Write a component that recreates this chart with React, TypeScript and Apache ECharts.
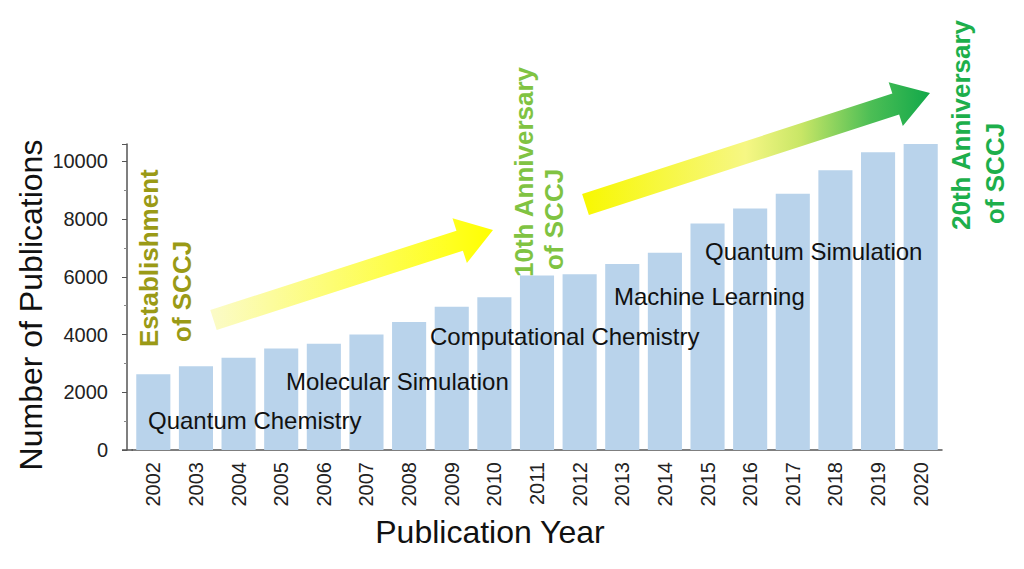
import React, { useEffect, useRef } from "react";
import * as echarts from "echarts";

const years = ["2002","2003","2004","2005","2006","2007","2008","2009","2010","2011","2012","2013","2014","2015","2016","2017","2018","2019","2020"];
const publications = [2620, 2900, 3195, 3520, 3680, 4005, 4430, 4960, 5295, 6045, 6090, 6440, 6830, 7845, 8365, 8880, 9690, 10310, 10600];
const yTicks = [0, 2000, 4000, 6000, 8000, 10000];
const topics = ["Quantum Chemistry", "Molecular Simulation", "Computational Chemistry", "Machine Learning", "Quantum Simulation"];
const milestones = [
  ["Establishment", "of SCCJ"],
  ["10th Anniversary", "of SCCJ"],
  ["20th Anniversary", "of SCCJ"],
];

const FONT = "'Liberation Sans', Arial, sans-serif";

function arrowPoints(tail: number[], tip: number[], sh: number, headLen: number, hh: number) {
  const dx = tip[0] - tail[0];
  const dy = tip[1] - tail[1];
  const L = Math.hypot(dx, dy);
  const ux = dx / L, uy = dy / L;
  const nx = -uy, ny = ux;
  const bx = tip[0] - ux * headLen, by = tip[1] - uy * headLen;
  return [
    [tail[0] + nx * sh, tail[1] + ny * sh],
    [bx + nx * sh, by + ny * sh],
    [bx + nx * hh, by + ny * hh],
    [tip[0], tip[1]],
    [bx - nx * hh, by - ny * hh],
    [bx - nx * sh, by - ny * sh],
    [tail[0] - nx * sh, tail[1] - ny * sh],
  ];
}

export default function App() {
  const ref = useRef<HTMLDivElement>(null);
  useEffect(() => {
    if (!ref.current) return;
    const chart = echarts.init(ref.current, null, { renderer: "svg" });

    const topicPos = [
      [148, 420], [286, 381], [430, 336], [614, 296], [705, 251],
    ];
    const msPos = [
      { color: "#9a9a16", lines: [[149, 347], [182, 342]] },
      { color: "#80c342", lines: [[524, 277], [554, 270]] },
      { color: "#1daf4b", lines: [[961, 230], [995, 224]] },
    ];

    const graphics: any[] = [];
    graphics.push({
      type: "line",
      shape: { x1: 122, y1: 450, x2: 133, y2: 450 },
      style: { stroke: "#555555", lineWidth: 1.5 },
    });
    graphics.push({
      type: "polygon",
      z: 5,
      shape: { points: arrowPoints([213.5, 320], [493, 230], 10.5, 35, 23.5) },
      style: {
        fill: new echarts.graphic.LinearGradient(0, 0, 1, 0, [
          { offset: 0, color: "#fbfbc8" },
          { offset: 0.85, color: "#ffff20" },
          { offset: 1, color: "#ffff00" },
        ]),
      },
    });
    graphics.push({
      type: "polygon",
      z: 5,
      shape: { points: arrowPoints([585.5, 204.5], [930, 93], 11, 36, 23) },
      style: {
        fill: new echarts.graphic.LinearGradient(0, 0, 1, 0, [
          { offset: 0, color: "#f8f800" },
          { offset: 0.47, color: "#f6f784" },
          { offset: 0.63, color: "#c8e666" },
          { offset: 0.83, color: "#4cbe55" },
          { offset: 1, color: "#12a84a" },
        ]),
      },
    });
    topics.forEach((t, i) => {
      graphics.push({
        type: "text",
        z: 10,
        x: topicPos[i][0],
        y: topicPos[i][1],
        style: {
          text: t,
          font: `24px ${FONT}`,
          fill: "#111111",
          textAlign: "left",
          textVerticalAlign: "middle",
        },
      });
    });
    milestones.forEach((m, i) => {
      m.forEach((line, j) => {
        graphics.push({
          type: "text",
          z: 10,
          x: msPos[i].lines[j][0],
          y: msPos[i].lines[j][1],
          rotation: Math.PI / 2,
          style: {
            text: line,
            font: `bold 26px ${FONT}`,
            fill: msPos[i].color,
            textAlign: "left",
            textVerticalAlign: "middle",
          },
        });
      });
    });
    graphics.push({
      type: "text",
      x: 31,
      y: 305,
      rotation: Math.PI / 2,
      style: {
        text: "Number of Publications",
        font: `32px ${FONT}`,
        fill: "#111111",
        textAlign: "center",
        textVerticalAlign: "middle",
      },
    });
    graphics.push({
      type: "text",
      x: 490,
      y: 532,
      style: {
        text: "Publication Year",
        font: `32px ${FONT}`,
        fill: "#111111",
        textAlign: "center",
        textVerticalAlign: "middle",
      },
    });

    chart.setOption({
      animation: false,
      backgroundColor: "#ffffff",
      grid: { left: 132, right: 82, top: 144, bottom: 119, containLabel: false },
      xAxis: {
        type: "category",
        data: years,
        axisLine: { show: true, lineStyle: { color: "#555555", width: 1.5 } },
        axisTick: { show: false },
        axisLabel: {
          rotate: 90,
          margin: 12,
          fontFamily: FONT,
          fontSize: 20,
          color: "#222222",
          interval: 0,
          padding: [0, 0, 10, 0],
        },
      },
      yAxis: {
        type: "value",
        min: 0,
        max: 10600,
        interval: 2000,
        offset: 5,
        splitLine: { show: false },
        axisLine: { show: true, lineStyle: { color: "#555555", width: 1.5 } },
        axisTick: { show: true, length: 5, lineStyle: { color: "#555555" } },
        minorTick: { show: true, splitNumber: 2, length: 3, lineStyle: { color: "#888888" } },
        axisLabel: {
          margin: 19,
          fontFamily: FONT,
          fontSize: 20,
          color: "#222222",
          formatter: (v: number) => (yTicks.includes(v) ? String(v) : ""),
        },
      },
      series: [
        {
          type: "bar",
          data: publications,
          barCategoryGap: "20%",
          itemStyle: { color: "#b9d3eb" },
          z: 2,
        },
      ],
      graphic: graphics,
    });
    return () => chart.dispose();
  }, []);
  return <div ref={ref} style={{ width: 1024, height: 569, position: "absolute", left: 0, top: 0 }} />;
}
